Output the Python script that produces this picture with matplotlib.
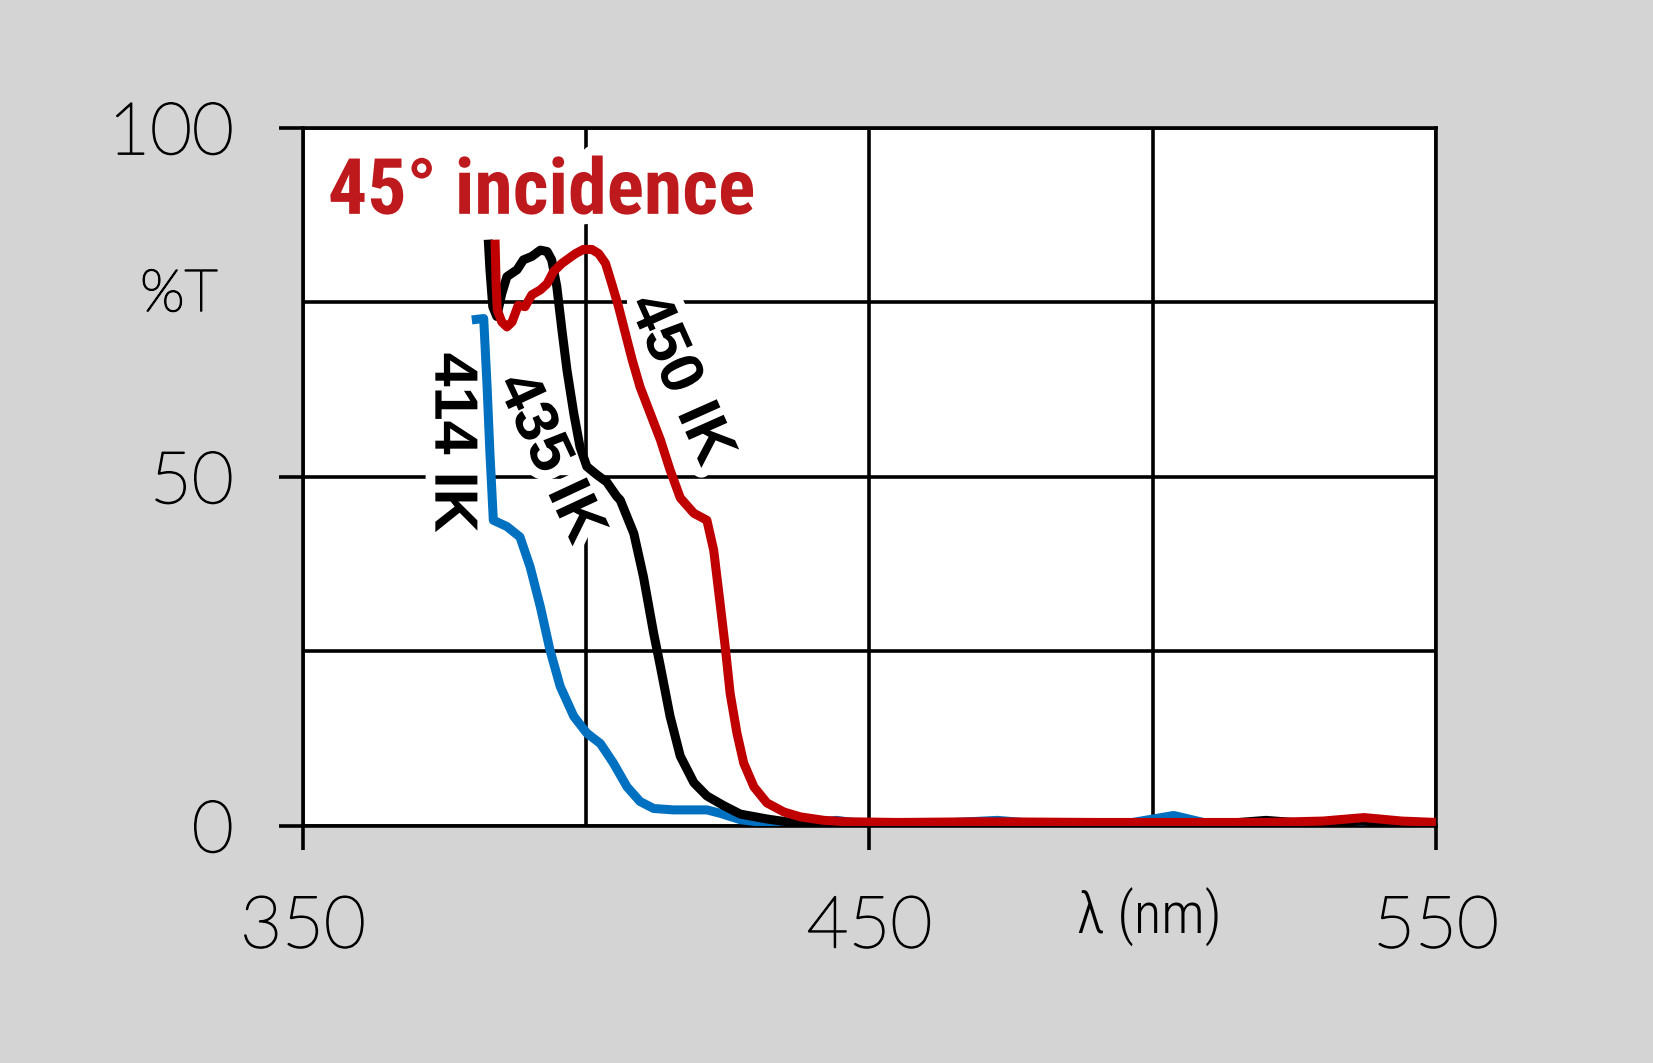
import matplotlib
matplotlib.use("Agg")
import matplotlib.pyplot as plt
import matplotlib.patheffects as pe

# 414 IK (mavi)
wl_414 = [379.8, 381.9, 382.5, 383.0, 383.6, 386.0, 388.3, 390.1, 391.9, 393.6, 395.4,
          397.8, 400.1, 402.5, 404.8, 407.2, 409.5, 411.9, 415.4, 421.3, 423.7, 427.2,
          433.1, 440.0, 444.2, 448.0, 460.0, 472.6, 480.0, 495.0, 503.7, 510.0, 520.0,
          537.0, 550.0]
t_414 = [72.5, 72.7, 62.9, 53.4, 43.8, 42.9, 41.4, 37.1, 31.4, 25.2, 20.0,
         15.7, 13.3, 11.8, 9.0, 5.6, 3.5, 2.5, 2.3, 2.3, 1.8, 0.9,
         0.3, 0.4, 0.8, 0.4, 0.3, 0.8, 0.3, 0.3, 1.5, 0.3, 0.2,
         0.2, 0.2]

# 435 IK (siyah)
wl_435 = [382.7, 383.0, 383.5, 384.2, 385.1, 386.0, 387.8, 388.9, 390.4, 391.9, 393.1,
          393.9, 394.8, 395.7, 396.6, 397.8, 398.9, 400.1, 401.9, 403.6, 405.4, 406.0,
          408.4, 410.1, 411.9, 413.1, 414.8, 416.6, 419.0, 421.3, 424.3, 427.2, 431.9,
          437.8, 445.0, 470.0, 500.0, 512.0, 520.0, 528.0, 537.0, 545.0, 550.0]
t_435 = [84.0, 79.7, 74.4, 73.0, 76.3, 78.7, 79.7, 81.1, 81.6, 82.5, 82.3,
         81.1, 77.3, 71.1, 65.3, 59.1, 54.3, 51.5, 50.3, 49.3, 47.2, 46.7,
         41.9, 35.7, 27.6, 22.8, 15.7, 10.0, 6.2, 4.3, 2.9, 1.7, 1.0,
         0.3, 0.2, 0.2, 0.3, 0.3, 0.8, 0.3, 0.7, 0.2, 0.2]

# 450 IK (kırmızı)
wl_450 = [383.9, 384.1, 384.3, 385.1, 386.0, 386.9, 388.0, 389.2, 390.4, 391.9, 393.1,
          394.2, 395.7, 396.9, 398.1, 399.5, 401.0, 402.2, 403.4, 404.5, 405.7, 406.9,
          408.1, 409.5, 411.3, 413.1, 414.8, 416.6, 419.0, 421.3, 422.5, 423.7, 424.6,
          425.4, 426.6, 427.8, 429.6, 431.9, 434.9, 437.8, 442.0, 446.0, 455.0, 470.0,
          490.0, 505.0, 520.0, 530.0, 537.3, 544.0, 550.0]
t_450 = [84.0, 77.3, 73.9, 72.2, 71.5, 72.2, 74.6, 74.4, 76.1, 76.8, 77.7,
         79.4, 80.6, 81.3, 82.0, 82.6, 82.6, 82.0, 80.6, 77.7, 74.4, 70.6,
         66.8, 62.9, 59.1, 55.3, 51.0, 47.0, 44.8, 43.8, 39.5, 31.4, 25.2,
         19.0, 13.3, 9.0, 5.6, 3.3, 2.0, 1.3, 0.8, 0.6, 0.5, 0.6,
         0.5, 0.5, 0.5, 0.7, 1.2, 0.7, 0.5]

x_major = [350, 450, 550]
x_minor = [400, 500]
y_major = [0, 50, 100]
y_minor = [25, 75]

etiket_font = ["Lato", "DejaVu Sans"]
dar_font = ["Roboto Condensed", "Liberation Sans Narrow", "Roboto", "DejaVu Sans"]
kalin = [pe.withStroke(linewidth=1.2, foreground="black")]

fig = plt.figure(figsize=(16.53, 10.63), dpi=100, facecolor="#d4d4d4")
ax = fig.add_axes([0.1833, 0.2230, 0.6854, 0.6566])
ax.set_facecolor("white")

stil = dict(lw=6.5, solid_capstyle="butt", solid_joinstyle="round")
ax.plot(wl_414, t_414, color="#0070c0", zorder=3, **stil)
ax.plot(wl_435, t_435, color="black", zorder=3.1, **stil)
ax.plot(wl_450, t_450, color="#c00000", zorder=3.2, **stil)

ax.set_xlim(350, 550)
ax.set_ylim(0, 100)
ax.set_xticks(x_major)
ax.set_xticks(x_minor, minor=True)
ax.set_yticks(y_major)
ax.set_yticks(y_minor, minor=True)
ax.set_axisbelow(True)
ax.grid(True, which="both", color="black", lw=2.6)
ax.tick_params(which="major", length=17, width=2.6, direction="out",
               labelsize=52, pad=33, color="black")
ax.tick_params(which="minor", length=0)
for lab in ax.get_xticklabels() + ax.get_yticklabels():
    lab.set_family(etiket_font)
    lab.set_fontweight("light")
    lab.set_path_effects(kalin)
for s in ax.spines.values():
    s.set_linewidth(2.6)

beyaz = [pe.withStroke(linewidth=14, foreground="white")]
ax.text(354.4, 87.7, "45° incidence", color="#be1a1d", fontsize=56, fontweight="bold",
        family=dar_font, ha="left", va="baseline",
        path_effects=beyaz, zorder=2.5)
etiket = dict(fontsize=44, fontweight="heavy", family=["Liberation Sans", "DejaVu Sans"],
              ha="center", va="center", rotation_mode="anchor",
              path_effects=beyaz, zorder=2.5)
ax.text(376.1, 54.9, "414 IK", rotation=-90, **etiket)
ax.text(393.4, 52.6, "435 IK", rotation=-65, **etiket)
ax.text(416.4, 63.9, "450 IK", rotation=-66, **etiket)

fig.text(0.1083, 0.7225, "%T", fontsize=42, fontweight="light", family=etiket_font,
         ha="center", va="center", path_effects=kalin)
fig.text(0.6951, 0.1373, "λ (nm)", fontsize=41, fontweight="light", family=dar_font,
         ha="center", va="center")

fig.savefig("out.png", dpi=100, facecolor=fig.get_facecolor())
